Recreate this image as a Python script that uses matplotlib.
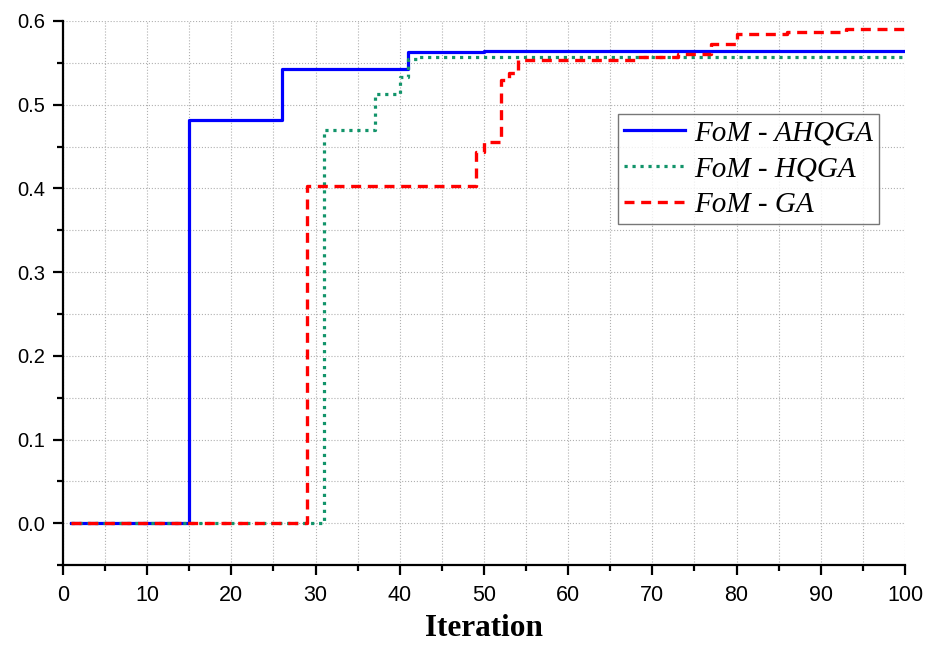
import numpy as np
import matplotlib.pyplot as plt
from matplotlib.ticker import MultipleLocator, FormatStrFormatter

# change points (iteration, FoM) for each algorithm, held with steps-post
ahqga_it = [1, 15, 26, 41, 50, 100]
ahqga_fom = [0.0, 0.482, 0.543, 0.563, 0.5645, 0.5645]

hqga_it = [1, 31, 37, 40, 41, 42, 100]
hqga_fom = [0.0, 0.470, 0.513, 0.533, 0.555, 0.557, 0.557]

ga_it = [1, 29, 49, 50, 52, 53, 54, 68, 73, 77, 80, 86, 93, 100]
ga_fom = [0.0, 0.403, 0.443, 0.456, 0.530, 0.538, 0.553, 0.557, 0.560,
          0.573, 0.584, 0.587, 0.591, 0.591]

labels = ["FoM - AHQGA", "FoM - HQGA", "FoM - GA"]

fig = plt.figure(figsize=(9.32, 6.48), dpi=100)
ax = fig.add_axes([0.0676, 0.128, 0.9034, 0.8396])

ax.step(ahqga_it, ahqga_fom, where="post", color="#0000ff", lw=2.3, label=labels[0])
ax.step(hqga_it, hqga_fom, where="post", color="#12946a", lw=2.3,
        linestyle=(0, (1, 1.5)), label=labels[1])
ax.step(ga_it, ga_fom, where="post", color="#ff0000", lw=2.4,
        linestyle=(0, (3, 2)), label=labels[2])

ax.set_xlim(0, 100)
ax.set_ylim(-0.05, 0.6)
ax.xaxis.set_major_locator(MultipleLocator(10))
ax.xaxis.set_minor_locator(MultipleLocator(5))
ax.yaxis.set_major_locator(MultipleLocator(0.1))
ax.yaxis.set_minor_locator(MultipleLocator(0.05))
ax.yaxis.set_major_formatter(FormatStrFormatter("%.1f"))

ax.grid(True, which="both", color="#b0b0b0", linestyle=":", linewidth=0.8)
ax.set_axisbelow(True)

for s in ["top", "right"]:
    ax.spines[s].set_visible(False)
for s in ["left", "bottom"]:
    ax.spines[s].set_linewidth(1.6)

ax.tick_params(which="major", direction="out", length=7, width=1.6)
ax.tick_params(which="minor", direction="out", length=4, width=1.6)
ax.tick_params(axis="x", which="major", labelsize=15.5, pad=7)
ax.tick_params(axis="y", which="major", labelsize=14.5, pad=6)
for lab in ax.get_xticklabels() + ax.get_yticklabels():
    lab.set_family("Liberation Sans")

ax.set_xlabel("Iteration", family="Liberation Serif", fontweight="bold",
              fontsize=22.5, labelpad=6)

leg = ax.legend(loc="upper right", bbox_to_anchor=(0.969, 0.829),
                prop={"family": "Liberation Serif", "style": "italic", "size": 21},
                frameon=True, fancybox=False, edgecolor="#555555",
                handlelength=2.1, borderaxespad=0, labelspacing=0.33,
                borderpad=0.2, handletextpad=0.3)
leg.get_frame().set_linewidth(1.0)

fig.savefig("out.png", dpi=100)
